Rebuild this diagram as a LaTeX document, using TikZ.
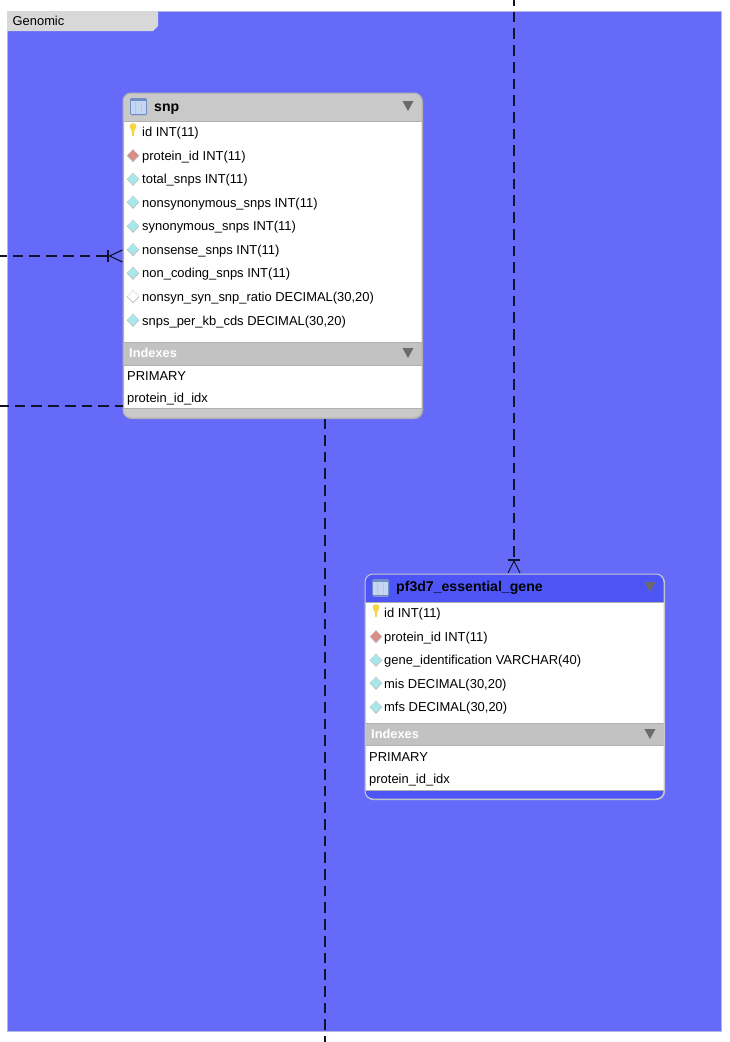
\documentclass[tikz,border=0pt]{standalone}
\usepackage{fontspec}
\setmainfont{Liberation Sans}
\definecolor{panelblue}{HTML}{656BF8}
\definecolor{panelline}{HTML}{B4B6E8}
\definecolor{tabgray}{HTML}{D8D8D8}
\definecolor{headgray}{HTML}{C9C9C9}
\definecolor{bandgray}{HTML}{C2C2C2}
\definecolor{edgegray}{HTML}{B0B0B0}
\definecolor{headblue}{HTML}{4D55F7}
\definecolor{arrowgray}{HTML}{6A6A6A}
\definecolor{iconblue}{HTML}{C5D6F2}
\definecolor{iconedge}{HTML}{6F8FC4}
\definecolor{fkred}{HTML}{D98F88}
\definecolor{colcyan}{HTML}{A8E8EC}
\definecolor{keyyellow}{HTML}{F7D548}
\definecolor{linedark}{HTML}{10122E}
\tikzset{
  x=1pt,y=-1pt,
  tablebox/.style={draw=edgegray,line width=1pt,fill=white,rounded corners=8pt,anchor=north west,inner sep=0pt},
  rowtext/.style={anchor=west,inner sep=0pt,font=\fontsize{12.95}{15}\selectfont,text=black},
  titletext/.style={anchor=west,inner sep=0pt,font=\fontsize{14.1}{16}\selectfont\bfseries,text=black},
  indextext/.style={anchor=west,inner sep=0pt,font=\fontsize{12.8}{15}\selectfont\bfseries,text=white},
  conn/.style={draw=linedark,line width=1.1pt,dash pattern=on 10.7pt off 6pt},
  foot/.style={draw=linedark,line width=1.1pt},
  band/.style={fill=bandgray,draw=none},
  rule/.style={draw=edgegray,line width=1pt}
}
\newcommand{\tblicon}[2]{%
  \fill[gray!60,rounded corners=1.5pt] (#1-8,#2-7.5) rectangle (#1+8.5,#2+9);
  \fill[iconblue,draw=iconedge,line width=.9pt,rounded corners=1pt] (#1-8,#2-8) rectangle (#1+8,#2+8);
  \fill[iconedge] (#1-8,#2-8) rectangle (#1+8,#2-5.5);
  \draw[iconedge!50,line width=.8pt] (#1-2.8,#2-5) -- (#1-2.8,#2+7.5) (#1+2.8,#2-5) -- (#1+2.8,#2+7.5);
}
\newcommand{\gem}[3]{%
  \fill[gray!50] (#1,#2-6.3) -- (#1+6.3,#2+.3) -- (#1,#2+6.8) -- (#1-6.3,#2+.3) -- cycle;
  \fill[#3] (#1,#2-5.6) -- (#1+5.5,#2) -- (#1,#2+5.4) -- (#1-5.5,#2) -- cycle;
}
\newcommand{\keyicon}[2]{%
  \fill[keyyellow] (#1-1.4,#2+2) -- (#1-3.4,#2-2.5) arc (180:360:3.4) -- (#1+1.4,#2+2) -- (#1+.8,#2+7) -- (#1-.8,#2+7) -- cycle;
}
\newcommand{\tri}[2]{%
  \fill[arrowgray] (#1-5.5,#2-5) -- (#1+5.5,#2-5) -- (#1,#2+5) -- cycle;
}
\begin{document}
\begin{tikzpicture}
\useasboundingbox (0,0) rectangle (730,1042);
\fill[white] (0,0) rectangle (730,1042);
% layer panel
\node[draw=panelline,line width=1pt,fill=panelblue,anchor=north west,inner sep=0pt,minimum width=714pt,minimum height=1020pt] (panel) at (7,11) {};
\fill[tabgray] (7,11) -- (158,11) -- (158,26) -- (153,31) -- (7,31) -- cycle;
\node[anchor=west,inner sep=0pt,font=\fontsize{12.9}{15}\selectfont] (tab) at (12.5,21) {Genomic};
% tables
\node[tablebox,minimum width=299pt,minimum height=325pt] (snp) at (123,93) {};
\node[tablebox,draw=edgegray!70!white,minimum width=299pt,minimum height=225pt] (ess) at (365,574) {};
% snp header and footer
\fill[headgray] (123,121) -- (123,101) arc (180:270:8) -- (414,93) arc (270:360:8) -- (422,121) -- cycle;
\fill[headgray] (123,408) -- (422,408) -- (422,410) arc (0:90:8) -- (131,418) arc (90:180:8) -- cycle;
\draw[rule] (123,121.5) -- (422,121.5) (123,408) -- (422,408);
\fill[band] (123,342) rectangle (422,365);
\draw[rule] (123,342) -- (422,342) (123,365) -- (422,365);
\draw[edgegray,line width=1pt,rounded corners=8pt] (123,93) rectangle (422,418);
% essential header and footer
\fill[headblue] (365,602) -- (365,582) arc (180:270:8) -- (656,574) arc (270:360:8) -- (664,602) -- cycle;
\fill[headblue] (365,790) -- (664,790) -- (664,791) arc (0:90:8) -- (373,799) arc (90:180:8) -- cycle;
\draw[rule] (365,602.5) -- (664,602.5) (365,790) -- (664,790);
\fill[band] (365,723) rectangle (664,745);
\draw[rule] (365,723) -- (664,723) (365,745.5) -- (664,745.5);
\draw[edgegray!70!white,line width=1pt,rounded corners=8pt] (365,574) rectangle (664,799);
% snp content
\tblicon{138.5}{106.5}
\node[titletext] (snpt) at (154,109.5) {snp};
\tri{408}{106}
\keyicon{133}{129}
\node[rowtext] (s1) at (142,133) {id INT(11)};
\gem{133}{155.5}{fkred}
\node[rowtext] (s2) at (142,157.5) {protein\_id INT(11)};
\gem{133}{179}{colcyan}
\node[rowtext] (s3) at (142,180.5) {total\_snps INT(11)};
\gem{133}{202}{colcyan}
\node[rowtext] (s4) at (142,204.5) {nonsynonymous\_snps INT(11)};
\gem{133}{226}{colcyan}
\node[rowtext] (s5) at (142,227.5) {synonymous\_snps INT(11)};
\gem{133}{249.5}{colcyan}
\node[rowtext] (s6) at (142,251.5) {nonsense\_snps INT(11)};
\gem{133}{273}{colcyan}
\node[rowtext] (s7) at (142,274.5) {non\_coding\_snps INT(11)};
\gem{133}{296.5}{white}
\node[rowtext] (s8) at (142,298.5) {nonsyn\_syn\_snp\_ratio DECIMAL(30,20)};
\gem{133}{320}{colcyan}
\node[rowtext] (s9) at (142,322) {snps\_per\_kb\_cds DECIMAL(30,20)};
\node[indextext] (si) at (129,352.5) {Indexes};
\tri{408}{353}
\node[rowtext] (s10) at (127,376) {PRIMARY};
\node[rowtext] (s11) at (127,399.5) {protein\_id\_idx};
% essential content
\tblicon{380.5}{587.5}
\node[titletext] (esst) at (396,588) {pf3d7\_essential\_gene};
\tri{650}{587}
\keyicon{376}{610}
\node[rowtext] (e1) at (384,614) {id INT(11)};
\gem{376}{636.5}{fkred}
\node[rowtext] (e2) at (384,638.5) {protein\_id INT(11)};
\gem{376}{660}{colcyan}
\node[rowtext] (e3) at (384,661.5) {gene\_identification VARCHAR(40)};
\gem{376}{683}{colcyan}
\node[rowtext] (e4) at (384,685.5) {mis DECIMAL(30,20)};
\gem{376}{707}{colcyan}
\node[rowtext] (e5) at (384,708.5) {mfs DECIMAL(30,20)};
\node[indextext] (ei) at (371,733.5) {Indexes};
\tri{650}{734}
\node[rowtext] (e6) at (369,757) {PRIMARY};
\node[rowtext] (e7) at (369,780.5) {protein\_id\_idx};
% connectors
\coordinate (c1) at (0,256);
\coordinate (c2) at (0,406);
\coordinate (c3) at (325,1042);
\coordinate (c4) at (514,0);
\coordinate (f1) at (108,256);
\coordinate (f4) at (514,559);
\draw[conn,dash phase=4pt] (c1) -- (f1);
\draw[foot] (108,250) -- (108,262);
\draw[foot] (122.5,250) -- (109.5,256) -- (122.5,262);
\draw[conn,dash phase=2pt] (c2) -- (snp.west |- c2);
\draw[conn,dash phase=4.7pt] (c3) -- (c3 |- snp.south);
\draw[conn,dash phase=5pt] (c4) -- (f4);
\draw[foot,line width=2pt] (508,559.5) -- (520,559.5);
\draw[foot] (508,573) -- (514,561) -- (520,573);
\end{tikzpicture}
\end{document}
